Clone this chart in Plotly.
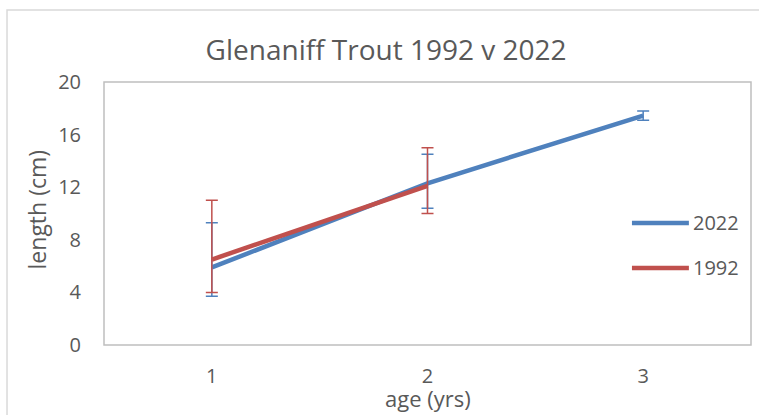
import plotly.graph_objects as go

ages = [1, 2, 3]
ages_1992 = [1, 2]
len_2022 = [5.9, 12.3, 17.45]
err_up_2022 = [3.4, 2.2, 0.35]
err_dn_2022 = [2.2, 1.9, 0.35]
len_1992 = [6.5, 12.1]
err_up_1992 = [4.5, 2.9]
err_dn_1992 = [2.5, 2.1]
series_names = ["2022", "1992"]
y_ticks = [0, 4, 8, 12, 16, 20]

BLUE = "#4F81BD"
RED = "#C0504D"
TXT = "#595959"
FONT = "Open Sans"

fig = go.Figure()
fig.add_trace(go.Scatter(
    x=ages, y=len_2022, mode="lines", name=series_names[0],
    line=dict(color=BLUE, width=4.5),
    error_y=dict(type="data", symmetric=False, array=err_up_2022, arrayminus=err_dn_2022,
                 color=BLUE, thickness=1.5, width=6),
    showlegend=False))
fig.add_trace(go.Scatter(
    x=ages_1992, y=len_1992, mode="lines", name=series_names[1],
    line=dict(color=RED, width=4.5),
    error_y=dict(type="data", symmetric=False, array=err_up_1992, arrayminus=err_dn_1992,
                 color=RED, thickness=1.5, width=6),
    showlegend=False))

shapes = [
    # outer chart border
    dict(type="rect", xref="paper", yref="paper", x0=-0.1499, x1=1.05, y0=-0.5, y1=1.2738,
         line=dict(color="#D9D9D9", width=1.5), fillcolor="rgba(0,0,0,0)", layer="below"),
    # plot area border
    dict(type="rect", xref="paper", yref="paper", x0=0, x1=1, y0=0, y1=1,
         line=dict(color="#BFBFBF", width=1.5), fillcolor="rgba(0,0,0,0)", layer="below"),
]
annotations = [
    dict(text="length (cm)", xref="paper", yref="paper", x=-0.103, y=0.513, textangle=-90,
         showarrow=False, font=dict(family=FONT, size=23, color=TXT), xanchor="center", yanchor="middle"),
    dict(text="age (yrs)", xref="paper", yref="paper", x=0.5008, y=-0.203,
         showarrow=False, font=dict(family=FONT, size=22, color=TXT), xanchor="center", yanchor="middle"),
]
# custom legend
leg_y = [0.4639, 0.2928]
leg_col = [BLUE, RED]
for name, yy, col in zip(series_names, leg_y, leg_col):
    shapes.append(dict(type="line", xref="paper", yref="paper", x0=0.816, x1=0.904, y0=yy, y1=yy,
                       line=dict(color=col, width=4.5)))
    annotations.append(dict(text=name, xref="paper", yref="paper", x=0.907, y=yy, xanchor="left",
                            yanchor="middle", showarrow=False, font=dict(family=FONT, size=20, color=TXT)))

fig.update_layout(
    width=759, height=415,
    margin=dict(l=104, r=8, t=82, b=70),
    paper_bgcolor="white", plot_bgcolor="white",
    title=dict(text="Glenaniff Trout 1992 v 2022", x=0.436, xref="paper", xanchor="center",
               y=1 - 50 / 415, yref="container", yanchor="middle",
               font=dict(family=FONT, size=28, color=TXT)),
    xaxis=dict(range=[0.5, 3.5], tickvals=ages, ticktext=[str(a) for a in ages],
               showgrid=False, zeroline=False, showline=False, ticks="",
               tickfont=dict(family=FONT, size=20, color=TXT), ticklabelstandoff=17),
    yaxis=dict(range=[0, 20], tickvals=y_ticks, showgrid=False, zeroline=False, showline=False, ticks="",
               tickfont=dict(family=FONT, size=20, color=TXT), ticklabelstandoff=22),
    shapes=shapes, annotations=annotations,
    showlegend=False,
)
fig.write_html("out.html", config={"displayModeBar": False},
               post_script="document.body.style.margin='0px';document.body.style.overflow='hidden';")
